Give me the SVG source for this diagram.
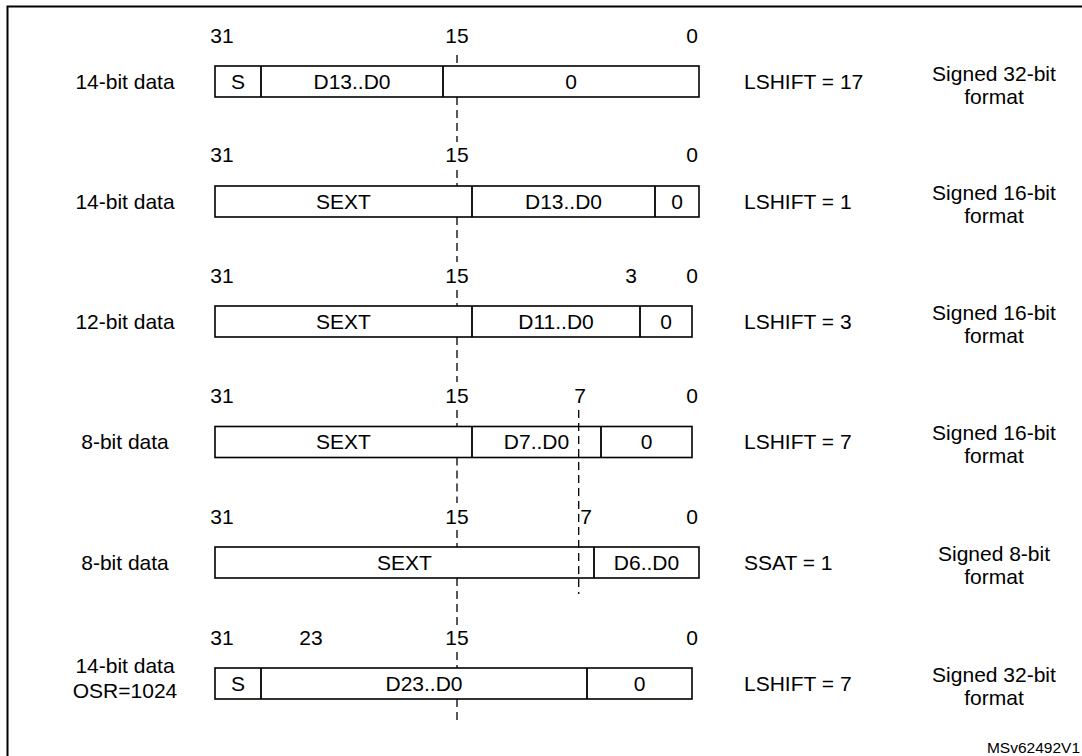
<svg xmlns="http://www.w3.org/2000/svg" width="1082" height="756" viewBox="0 0 1082 756">
<style>
text{font-family:"Liberation Sans",Arial,sans-serif;font-size:21px;fill:#000}
.c{text-anchor:middle}
.s{text-anchor:start}
.box{fill:#fff;stroke:#000;stroke-width:1.6}
.div{stroke:#000;stroke-width:1.8}
.dash{stroke:#000;stroke-width:1.3;stroke-dasharray:8 5;fill:none}
.frame{stroke:#000;stroke-width:2;fill:none}
.ref{font-size:15.5px;text-anchor:end}
</style>
<rect width="1082" height="756" fill="#fff"/>
<path class="frame" d="M7.5,760 V6.5 H1090"/>

<g id="guides">
<path class="dash" d="M457,55 V66 M457,97 V142 M457,170 V186 M457,217 V262 M457,290 V306 M457,337 V382 M457,410 V426.5 M457,457.5 V503 M457,530 V547 M457,578 V625 M457,652 V668 M457,699 V720"/>
<path class="dash" d="M578.7,410 V594"/>
</g>

<g id="row1">
<text class="c" x="222" y="43">31</text><text class="c" x="457" y="43">15</text><text class="c" x="692" y="43">0</text>
<text class="c" x="125" y="89">14-bit data</text>
<rect class="box" x="215" y="66" width="484" height="31"/>
<line class="div" x1="261" y1="66" x2="261" y2="97"/><line class="div" x1="443" y1="66" x2="443" y2="97"/>
<text class="c" x="238" y="89">S</text><text class="c" x="352" y="89">D13..D0</text><text class="c" x="571" y="89">0</text>
<text class="s" x="744" y="89">LSHIFT = 17</text>
<text class="c" x="994" y="81">Signed 32-bit</text><text class="c" x="994" y="104">format</text>
</g>

<g id="row2">
<text class="c" x="222" y="162">31</text><text class="c" x="457" y="162">15</text><text class="c" x="692" y="162">0</text>
<text class="c" x="125" y="209">14-bit data</text>
<rect class="box" x="215" y="186" width="484" height="31"/>
<line class="div" x1="472" y1="186" x2="472" y2="217"/><line class="div" x1="655" y1="186" x2="655" y2="217"/>
<text class="c" x="343.5" y="209">SEXT</text><text class="c" x="563.5" y="209">D13..D0</text><text class="c" x="677" y="209">0</text>
<text class="s" x="744" y="209">LSHIFT = 1</text>
<text class="c" x="994" y="200">Signed 16-bit</text><text class="c" x="994" y="223">format</text>
</g>

<g id="row3">
<text class="c" x="222" y="283">31</text><text class="c" x="457" y="283">15</text><text class="c" x="631" y="283">3</text><text class="c" x="692" y="283">0</text>
<text class="c" x="125" y="329">12-bit data</text>
<rect class="box" x="215" y="306" width="477" height="31"/>
<line class="div" x1="472" y1="306" x2="472" y2="337"/><line class="div" x1="640" y1="306" x2="640" y2="337"/>
<text class="c" x="343.5" y="329">SEXT</text><text class="c" x="556" y="329">D11..D0</text><text class="c" x="666" y="329">0</text>
<text class="s" x="744" y="329">LSHIFT = 3</text>
<text class="c" x="994" y="320">Signed 16-bit</text><text class="c" x="994" y="343">format</text>
</g>

<g id="row4">
<text class="c" x="222" y="403">31</text><text class="c" x="457" y="403">15</text><text class="c" x="580" y="403">7</text><text class="c" x="692" y="403">0</text>
<text class="c" x="125" y="449">8-bit data</text>
<rect class="box" x="215" y="426.5" width="477" height="31" style="fill:none"/>
<line class="div" x1="472" y1="426.5" x2="472" y2="457.5"/><line class="div" x1="601" y1="426.5" x2="601" y2="457.5"/>
<text class="c" x="343.5" y="449">SEXT</text><text class="c" x="536.5" y="449">D7..D0</text><text class="c" x="646.5" y="449">0</text>
<text class="s" x="744" y="449">LSHIFT = 7</text>
<text class="c" x="994" y="440">Signed 16-bit</text><text class="c" x="994" y="463">format</text>
</g>

<g id="row5">
<text class="c" x="222" y="524">31</text><text class="c" x="457" y="524">15</text><text class="c" x="586" y="524">7</text><text class="c" x="692" y="524">0</text>
<text class="c" x="125" y="570">8-bit data</text>
<rect class="box" x="215" y="547" width="484" height="31" style="fill:none"/>
<line class="div" x1="594" y1="547" x2="594" y2="578"/>
<text class="c" x="404.5" y="570">SEXT</text><text class="c" x="646.5" y="570">D6..D0</text>
<text class="s" x="744" y="570">SSAT = 1</text>
<text class="c" x="994" y="561">Signed 8-bit</text><text class="c" x="994" y="584">format</text>
</g>

<g id="row6">
<text class="c" x="222" y="645">31</text><text class="c" x="311" y="645">23</text><text class="c" x="457" y="645">15</text><text class="c" x="692" y="645">0</text>
<text class="c" x="125" y="673">14-bit data</text><text class="c" x="125" y="698">OSR=1024</text>
<rect class="box" x="215" y="668" width="477" height="31"/>
<line class="div" x1="261" y1="668" x2="261" y2="699"/><line class="div" x1="587" y1="668" x2="587" y2="699"/>
<text class="c" x="238" y="691">S</text><text class="c" x="424" y="691">D23..D0</text><text class="c" x="639.5" y="691">0</text>
<text class="s" x="744" y="691">LSHIFT = 7</text>
<text class="c" x="994" y="682">Signed 32-bit</text><text class="c" x="994" y="705">format</text>
</g>

<text class="ref" x="1080" y="753">MSv62492V1</text>
</svg>
